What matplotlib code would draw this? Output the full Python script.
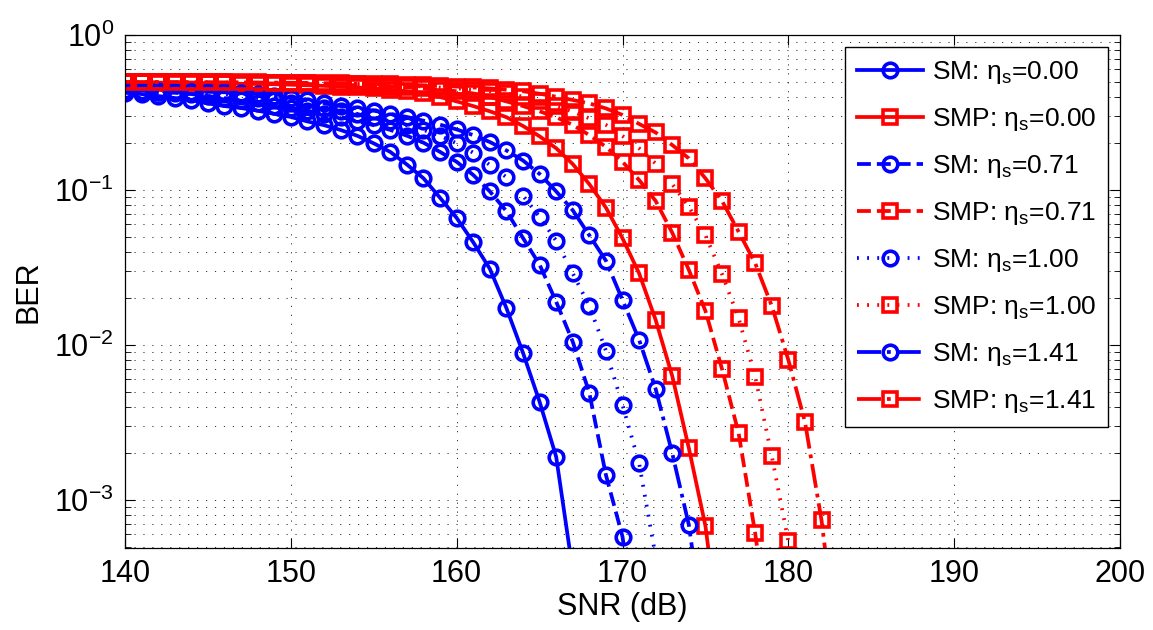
import numpy as np
import matplotlib
matplotlib.use('Agg')
import matplotlib.pyplot as plt

plt.rcParams['font.family'] = ['Liberation Sans', 'DejaVu Sans']
plt.rcParams['mathtext.fontset'] = 'custom'
plt.rcParams['mathtext.rm'] = 'Liberation Sans'

# SNR grid (dB); every curve starts at 140 dB
snr = np.arange(140, 201)

# BER
sm_000 = [0.424, 0.416, 0.404, 0.392, 0.380, 0.362, 0.348, 0.338, 0.325, 0.310,
          0.296, 0.277, 0.262, 0.244, 0.224, 0.200, 0.176, 0.146, 0.119, 0.089,
          0.066, 0.046, 0.031, 0.0173, 0.0089, 0.0043, 0.0019, 0.00035]
sm_071 = [0.432, 0.428, 0.426, 0.424, 0.416, 0.404, 0.392, 0.380, 0.362, 0.348,
          0.338, 0.325, 0.310, 0.296, 0.277, 0.262, 0.244, 0.224, 0.202, 0.176,
          0.152, 0.125, 0.098, 0.073, 0.049, 0.033, 0.019, 0.0105, 0.0049, 0.00145,
          0.00058, 0.0001]
sm_100 = [0.436, 0.434, 0.432, 0.430, 0.428, 0.424, 0.416, 0.404, 0.392, 0.380,
          0.362, 0.348, 0.338, 0.325, 0.310, 0.296, 0.277, 0.262, 0.244, 0.224,
          0.200, 0.174, 0.145, 0.121, 0.092, 0.067, 0.047, 0.029, 0.0178, 0.0092,
          0.0041, 0.00173, 0.00043]
sm_141 = [0.440, 0.438, 0.436, 0.434, 0.432, 0.430, 0.427, 0.424, 0.416, 0.404,
          0.392, 0.380, 0.362, 0.348, 0.338, 0.325, 0.310, 0.296, 0.280, 0.264,
          0.246, 0.226, 0.204, 0.180, 0.155, 0.127, 0.098, 0.074, 0.051, 0.035,
          0.0195, 0.0108, 0.0052, 0.0020, 0.00069, 0.00012]

smp_000 = [0.495, 0.494, 0.493, 0.492, 0.491, 0.489, 0.487, 0.485, 0.483, 0.481,
           0.478, 0.474, 0.470, 0.465, 0.459, 0.452, 0.444, 0.434, 0.420, 0.398,
           0.373, 0.348, 0.322, 0.295, 0.259, 0.222, 0.186, 0.147, 0.109, 0.077,
           0.0488, 0.029, 0.0145, 0.0063, 0.00216, 0.00068, 0.0001]
smp_071 = [0.496, 0.495, 0.495, 0.494, 0.494, 0.493, 0.492, 0.491, 0.489, 0.487,
           0.485, 0.483, 0.481, 0.478, 0.474, 0.470, 0.465, 0.459, 0.452, 0.444,
           0.434, 0.420, 0.398, 0.373, 0.348, 0.322, 0.295, 0.263, 0.226, 0.190,
           0.152, 0.116, 0.085, 0.053, 0.0305, 0.0166, 0.0070, 0.0027, 0.00061, 0.0001]
smp_100 = [0.497, 0.496, 0.496, 0.495, 0.495, 0.495, 0.494, 0.493, 0.492, 0.491,
           0.489, 0.487, 0.485, 0.483, 0.481, 0.478, 0.474, 0.470, 0.465, 0.459,
           0.452, 0.444, 0.434, 0.420, 0.400, 0.373, 0.348, 0.320, 0.290, 0.263,
           0.223, 0.186, 0.148, 0.109, 0.078, 0.051, 0.0287, 0.0149, 0.00625, 0.00192,
           0.00054, 0.00008]
smp_141 = [0.498, 0.497, 0.497, 0.497, 0.496, 0.496, 0.495, 0.495, 0.494, 0.493,
           0.492, 0.491, 0.489, 0.487, 0.485, 0.483, 0.481, 0.478, 0.474, 0.470,
           0.465, 0.459, 0.452, 0.444, 0.434, 0.418, 0.400, 0.381, 0.362, 0.336,
           0.305, 0.267, 0.235, 0.195, 0.160, 0.119, 0.085, 0.0538, 0.0337, 0.0179,
           0.008, 0.0032, 0.00074, 0.0001]

series = [
    ('SM: η$_\\mathregular{s}$=0.00', sm_000, 'b', 'o', '-'),
    ('SMP: η$_\\mathregular{s}$=0.00', smp_000, 'r', 's', '-'),
    ('SM: η$_\\mathregular{s}$=0.71', sm_071, 'b', 'o', '--'),
    ('SMP: η$_\\mathregular{s}$=0.71', smp_071, 'r', 's', '--'),
    ('SM: η$_\\mathregular{s}$=1.00', sm_100, 'b', 'o', (0, (0.5, 2.2))),
    ('SMP: η$_\\mathregular{s}$=1.00', smp_100, 'r', 's', (0, (0.5, 2.2))),
    ('SM: η$_\\mathregular{s}$=1.41', sm_141, 'b', 'o', '-.'),
    ('SMP: η$_\\mathregular{s}$=1.41', smp_141, 'r', 's', '-.'),
]

fig = plt.figure(figsize=(11.53, 6.3), dpi=100)
ax = fig.add_axes([0.1084, 0.1302, 0.863, 0.8142])

for label, ber, col, mk, ls in series:
    size = 10.5 if mk == 'o' else 9.5
    ax.semilogy(snr[:len(ber)], ber, color=col, linestyle=ls, linewidth=2.7,
                marker=mk, markersize=size, markerfacecolor='none',
                markeredgewidth=2.6, label=label)

ax.set_xlim(140, 200)
ax.set_ylim(4.9e-4, 1)
ax.set_xticks(np.arange(140, 201, 10))

ax.grid(True, which='major', axis='x', color='#303030', linestyle=(0, (1.2, 8)), linewidth=0.7)
ax.grid(True, which='both', axis='y', color='#303030', linestyle=(0, (1.2, 8)), linewidth=0.7)

ax.tick_params(which='both', direction='in', top=True, right=True, labelsize=22,
               colors='black', pad=8)
ax.tick_params(which='major', length=7, width=0.8)
ax.tick_params(which='minor', length=4, width=0.6)
for s in ax.spines.values():
    s.set_linewidth(0.9)

ax.set_xlabel('SNR (dB)', fontsize=22, labelpad=2)
ax.set_ylabel('BER', fontsize=22, labelpad=8)

leg = ax.legend(loc='upper right', bbox_to_anchor=(1.0, 1.0), borderaxespad=0.45,
                fontsize=19, frameon=True, fancybox=False, edgecolor='black',
                framealpha=1, handlelength=2.5, labelspacing=0.76, borderpad=0.45,
                handletextpad=0.35)
leg.get_frame().set_linewidth(1.0)

fig.savefig('out.png', dpi=100)
